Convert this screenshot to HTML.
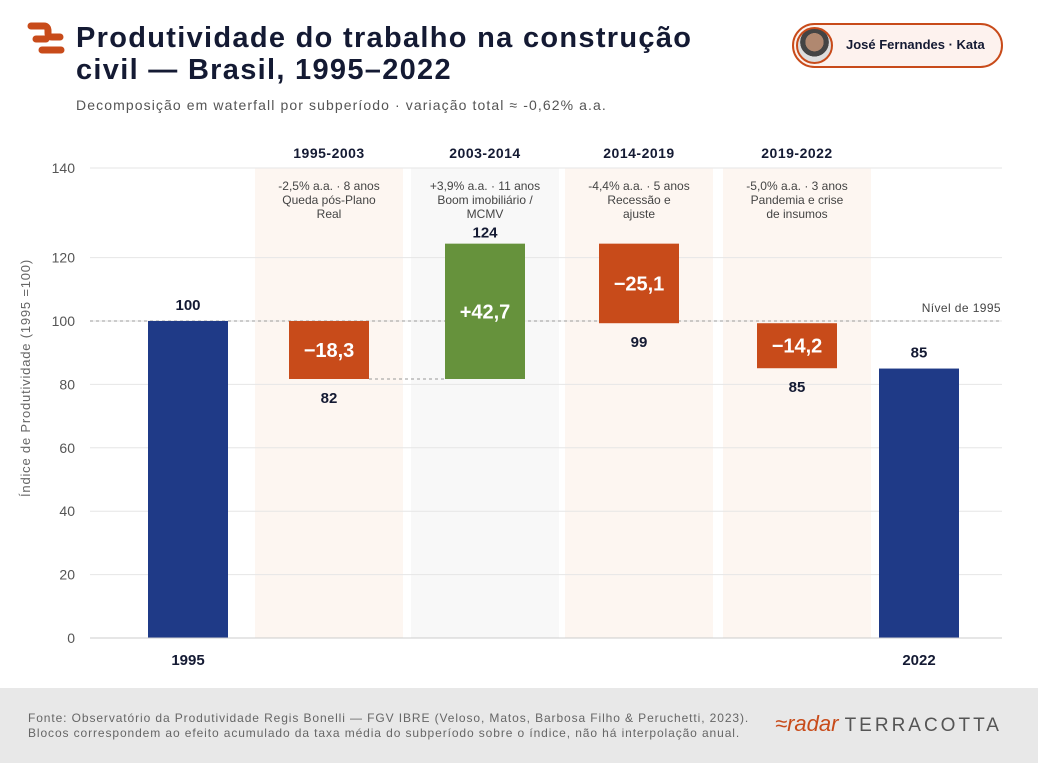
<!DOCTYPE html>
<html><head><meta charset="utf-8"><style>
body{margin:0;width:1038px;height:763px;background:#fff;font-family:"Liberation Sans",sans-serif;position:relative;overflow:hidden}
.abs{position:absolute}
</style></head><body>
<svg class="abs" style="left:26px;top:22px" width="42" height="38">
<path d="M5,4 H18 Q22,4 22,9 V11 Q22,15 26,15 H34" stroke="#c84b1a" stroke-width="7" fill="none" stroke-linecap="round"/>
<path d="M10,17 H20 M16,28 H35" stroke="#c84b1a" stroke-width="7" fill="none" stroke-linecap="round"/>
</svg>
<div class="abs" style="left:76px;top:22px;font-size:29px;font-weight:bold;color:#141a33;line-height:32px;letter-spacing:1.3px">Produtividade do trabalho na construção<br>civil — Brasil, 1995–2022</div>
<div class="abs" style="left:76px;top:97px;font-size:14px;color:#555;letter-spacing:1.1px">Decomposição em waterfall por subperíodo · variação total ≈ -0,62% a.a.</div>
<div class="abs" style="left:792px;top:23px;width:207px;height:41px;border:2px solid #c84b1a;border-radius:23px;background:#fdf2ee">
<div style="position:absolute;left:2px;top:2px;width:33px;height:33px;border-radius:50%;border:2px solid #c84b1a;background:radial-gradient(circle at 50% 40%,#b08870 0 35%,#444 36% 55%,#ddd 56%)"></div>
<div style="position:absolute;left:52px;top:12px;font-size:13px;font-weight:bold;color:#141a33">José Fernandes · Kata</div></div>
<svg class="abs" style="left:0;top:0" width="1038" height="688" id="chart"></svg>
<div class="abs" style="left:0;top:688px;width:1038px;height:75px;background:#e8e8e8"></div>
<div class="abs" style="left:28px;top:711px;font-size:12px;color:#666;line-height:15px;letter-spacing:0.9px">Fonte: Observatório da Produtividade Regis Bonelli — FGV IBRE (Veloso, Matos, Barbosa Filho &amp; Peruchetti, 2023).<br>Blocos correspondem ao efeito acumulado da taxa média do subperíodo sobre o índice, não há interpolação anual.</div>
<div class="abs" style="left:775px;top:711px;font-size:22px;white-space:nowrap"><span style="color:#c84b1a;font-style:italic">≈radar</span> <span style="color:#555;letter-spacing:3px;font-size:19px">TERRACOTTA</span></div>
<script>
const periods=["1995-2003","2003-2014","2014-2019","2019-2022"];
const deltas=[-18.3,42.7,-25.1,-14.2];
const deltaLabels=["−18,3","+42,7","−25,1","−14,2"];
const endLabels=["82","124","99","85"];
const notes=[["-2,5% a.a. · 8 anos","Queda pós-Plano","Real"],["+3,9% a.a. · 11 anos","Boom imobiliário /","MCMV"],["-4,4% a.a. · 5 anos","Recessão e","ajuste"],["-5,0% a.a. · 3 anos","Pandemia e crise","de insumos"]];
const startValue=100, endValue=85;
const yTicks=[0,20,40,60,80,100,120];
const NS="http://www.w3.org/2000/svg",svg=document.getElementById('chart');
const y=v=>638-v*3.17;
function el(t,a,txt){const e=document.createElementNS(NS,t);for(const k in a)e.setAttribute(k,a[k]);if(txt!=null)e.textContent=txt;svg.appendChild(e);return e;}
const centers=[329,485,639,797];
centers.forEach((c,i)=>{const b=el('rect',{x:c-74,y:168,width:148,height:470,fill:i==1?'#f8f8f8':'#fdf6f1'});

});
yTicks.forEach(t=>{const g=el('line',{x1:90,x2:1002,y1:y(t),y2:y(t),stroke:'#e6e6e6'});


const l=el('text',{x:75,y:y(t)+5,'text-anchor':'end','font-size':14,fill:'#555'},t);

});
const gt=el('line',{x1:90,x2:1002,y1:168,y2:168,stroke:'#e6e6e6'});


const tl=el('text',{x:75,y:173,'text-anchor':'end','font-size':14,fill:'#555'},'140');


const yt=el('text',{x:30,y:378,'text-anchor':'middle','font-size':13,fill:'#666','letter-spacing':'0.8',transform:'rotate(-90 30 378)'},'Índice de Produtividade (1995 =100)');


const rl=el('line',{x1:90,x2:1002,y1:y(startValue),y2:y(startValue),stroke:'#999','stroke-dasharray':'3,3'});


const rt=el('text',{x:1001,y:y(startValue)-9,'text-anchor':'end','font-size':12,fill:'#444','letter-spacing':'0.4'},'Nível de 1995');


function totalBar(cx,v,lbl,name){const r=el('rect',{x:cx-40,y:y(v),width:80,height:y(0)-y(v),fill:'#1f3a87'});


const t=el('text',{x:cx,y:y(v)-11,'text-anchor':'middle','font-size':15,'font-weight':'bold',fill:'#141a33'},v);


const x=el('text',{x:cx,y:665,'text-anchor':'middle','font-size':15,'font-weight':'bold',fill:'#141a33'},lbl);

}
totalBar(188,startValue,'1995','bar-1995');
totalBar(919,endValue,'2022','bar-2022');
let cur=startValue;
deltas.forEach((d,i)=>{const c=centers[i],nv=cur+d,top=y(Math.max(cur,nv)),bot=y(Math.min(cur,nv));
const r=el('rect',{x:c-40,y:top,width:80,height:bot-top,fill:d>0?'#66923c':'#c84b1a'});


const v=el('text',{x:c,y:(top+bot)/2+7,'text-anchor':'middle','font-size':20,'font-weight':'bold',fill:'#fff'},deltaLabels[i]);


const ey=d>0?top-6:bot+24;
const e=el('text',{x:c,y:ey,'text-anchor':'middle','font-size':15,'font-weight':'bold',fill:'#141a33'},endLabels[i]);


const h=el('text',{x:c,y:158,'text-anchor':'middle','font-size':14,'font-weight':'bold',fill:'#141a33','letter-spacing':'0.5'},periods[i]);


notes[i].forEach((n,j)=>{const t=el('text',{x:c,y:190+j*14,'text-anchor':'middle','font-size':12,fill:'#444'},n);

});
if(i==0){const cl=el('line',{x1:c+40,x2:centers[1]-40,y1:y(nv),y2:y(nv),stroke:'#999','stroke-dasharray':'3,3'});

}
cur=nv;});
const ax=el('line',{x1:90,x2:1002,y1:638,y2:638,stroke:'#ccc'});


</script>
</body></html>
